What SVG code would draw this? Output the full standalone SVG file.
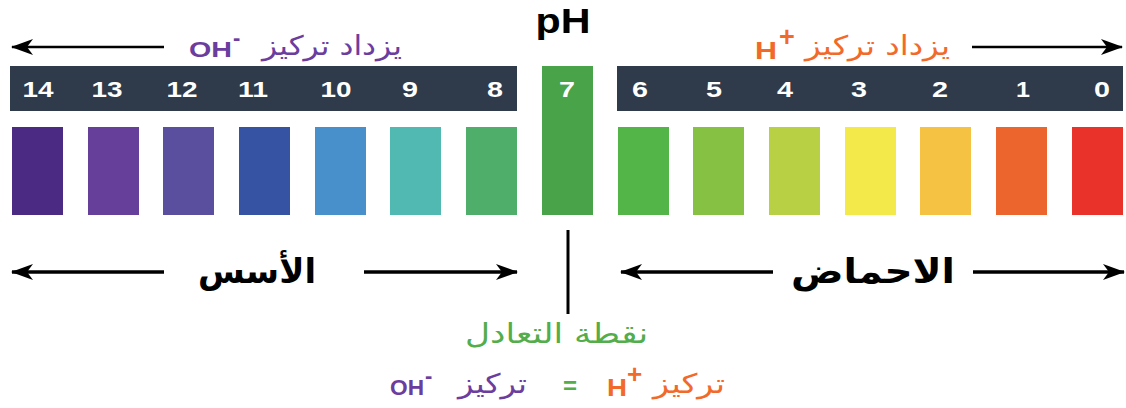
<svg xmlns="http://www.w3.org/2000/svg" width="1126" height="408" viewBox="0 0 1126 408">
<style>
.bar{fill:#2f3a4b}
.num{font-family:"Liberation Sans",Arial,sans-serif;font-weight:bold;font-size:22px;fill:#ffffff;text-anchor:middle}
.lat{font-family:"Liberation Sans",Arial,sans-serif;font-weight:bold}
.ar{font-family:"DejaVu Sans",sans-serif}
.purple{fill:#6a3d9e}
.orange{fill:#f26a2a}
.green{fill:#52ad4a}
.ln{stroke:#000;stroke-width:2.5;fill:none}
.ln2{stroke:#000;stroke-width:3.5;fill:none}
</style>
<defs>
<marker id="ah" markerUnits="userSpaceOnUse" markerWidth="22" markerHeight="16" viewBox="0 0 22 16" refX="21" refY="8" orient="auto">
<path d="M0,0 L22,8 L0,16 L6,8 z" fill="#000"/>
</marker>
</defs>
<rect width="1126" height="408" fill="#ffffff"/>

<g id="ph-title"><text class="lat" x="563" y="33" font-size="35" text-anchor="middle" fill="#000" textLength="55" lengthAdjust="spacingAndGlyphs">pH</text></g>

<g id="bar-base">
<rect class="bar" x="10" y="66" width="507" height="45"/>
<text class="num" x="38" y="97" textLength="31" lengthAdjust="spacingAndGlyphs">14</text>
<text class="num" x="107" y="97" textLength="31" lengthAdjust="spacingAndGlyphs">13</text>
<text class="num" x="182" y="97" textLength="31" lengthAdjust="spacingAndGlyphs">12</text>
<text class="num" x="253" y="97" textLength="30" lengthAdjust="spacingAndGlyphs">11</text>
<text class="num" x="336" y="97" textLength="31" lengthAdjust="spacingAndGlyphs">10</text>
<text class="num" x="410" y="97" textLength="16" lengthAdjust="spacingAndGlyphs">9</text>
<text class="num" x="495" y="97" textLength="16" lengthAdjust="spacingAndGlyphs">8</text>
</g>
<g id="bar-acid">
<rect class="bar" x="617" y="66" width="506" height="45"/>
<text class="num" x="640" y="97" textLength="16" lengthAdjust="spacingAndGlyphs">6</text>
<text class="num" x="714" y="97" textLength="16" lengthAdjust="spacingAndGlyphs">5</text>
<text class="num" x="785" y="97" textLength="16" lengthAdjust="spacingAndGlyphs">4</text>
<text class="num" x="859" y="97" textLength="16" lengthAdjust="spacingAndGlyphs">3</text>
<text class="num" x="940" y="97" textLength="16" lengthAdjust="spacingAndGlyphs">2</text>
<text class="num" x="1023" y="97" textLength="14" lengthAdjust="spacingAndGlyphs">1</text>
<text class="num" x="1102" y="97" textLength="16" lengthAdjust="spacingAndGlyphs">0</text>
</g>
<g id="neutral">
<rect x="542" y="66" width="51" height="149" fill="#48a349"/>
<text class="num" x="567" y="97" textLength="16" lengthAdjust="spacingAndGlyphs">7</text>
</g>

<g id="swatches">
<rect x="12" y="127" width="51" height="88" fill="#4a2a82"/>
<rect x="88" y="127" width="51" height="88" fill="#653f9a"/>
<rect x="163" y="127" width="51" height="88" fill="#5a4f9e"/>
<rect x="239" y="127" width="51" height="88" fill="#3652a3"/>
<rect x="315" y="127" width="51" height="88" fill="#4790cc"/>
<rect x="390" y="127" width="51" height="88" fill="#52b8b2"/>
<rect x="466" y="127" width="51" height="88" fill="#4fae6a"/>
<rect x="618" y="127" width="51" height="88" fill="#53b548"/>
<rect x="693" y="127" width="51" height="88" fill="#86c143"/>
<rect x="769" y="127" width="51" height="88" fill="#b8d144"/>
<rect x="845" y="127" width="51" height="88" fill="#f4e94b"/>
<rect x="920" y="127" width="51" height="88" fill="#f6c243"/>
<rect x="996" y="127" width="51" height="88" fill="#eb652c"/>
<rect x="1072" y="127" width="51" height="88" fill="#e9322a"/>
</g>

<g id="connectors">
<line class="ln" x1="164" y1="47" x2="12" y2="47" marker-end="url(#ah)"/>
<line class="ln" x1="972" y1="47" x2="1122" y2="47" marker-end="url(#ah)"/>
<line class="ln2" x1="164" y1="272" x2="12" y2="272" marker-end="url(#ah)"/>
<line class="ln2" x1="364" y1="272" x2="517" y2="272" marker-end="url(#ah)"/>
<line class="ln2" x1="773" y1="272" x2="621" y2="272" marker-end="url(#ah)"/>
<line class="ln2" x1="973" y1="272" x2="1124" y2="272" marker-end="url(#ah)"/>
<line x1="568" y1="230" x2="568" y2="314" stroke="#000" stroke-width="3"/>
</g>

<g id="label-oh-top">
<text class="lat purple" x="189" y="57" font-size="22" textLength="43" lengthAdjust="spacingAndGlyphs">OH</text>
<text class="lat purple" x="233" y="45" font-size="22">-</text>
<text class="ar purple" x="262" y="55" font-size="27" textLength="140" lengthAdjust="spacingAndGlyphs">يزداد تركيز</text>
</g>
<g id="label-h-top">
<text class="lat orange" x="755" y="59" font-size="23" textLength="22" lengthAdjust="spacingAndGlyphs">H</text>
<text class="lat orange" x="779" y="46" font-size="27">+</text>
<text class="ar orange" x="805" y="55" font-size="27" textLength="145" lengthAdjust="spacingAndGlyphs">يزداد تركيز</text>
</g>

<g id="label-bases"><text class="ar" x="198" y="283" font-size="34" font-weight="bold" fill="#000" textLength="118" lengthAdjust="spacingAndGlyphs">الأسس</text></g>
<g id="label-acids"><text class="ar" x="791" y="283" font-size="34" font-weight="bold" fill="#000" textLength="164" lengthAdjust="spacingAndGlyphs">الاحماض</text></g>

<g id="label-neutral"><text class="ar green" x="465" y="343" font-size="28" textLength="183" lengthAdjust="spacingAndGlyphs">نقطة التعادل</text></g>

<g id="label-equal">
<text class="lat purple" x="390" y="395" font-size="22" textLength="34" lengthAdjust="spacingAndGlyphs">OH</text>
<text class="lat purple" x="425" y="383" font-size="22">-</text>
<text class="ar purple" x="458" y="393" font-size="27" textLength="69" lengthAdjust="spacingAndGlyphs">تركيز</text>
<text class="lat green" x="570" y="394" font-size="24" text-anchor="middle">=</text>
<text class="lat orange" x="607" y="396" font-size="23" textLength="20" lengthAdjust="spacingAndGlyphs">H</text>
<text class="lat orange" x="627" y="383" font-size="26">+</text>
<text class="ar orange" x="653" y="393" font-size="27" textLength="72" lengthAdjust="spacingAndGlyphs">تركيز</text>
</g>
</svg>
